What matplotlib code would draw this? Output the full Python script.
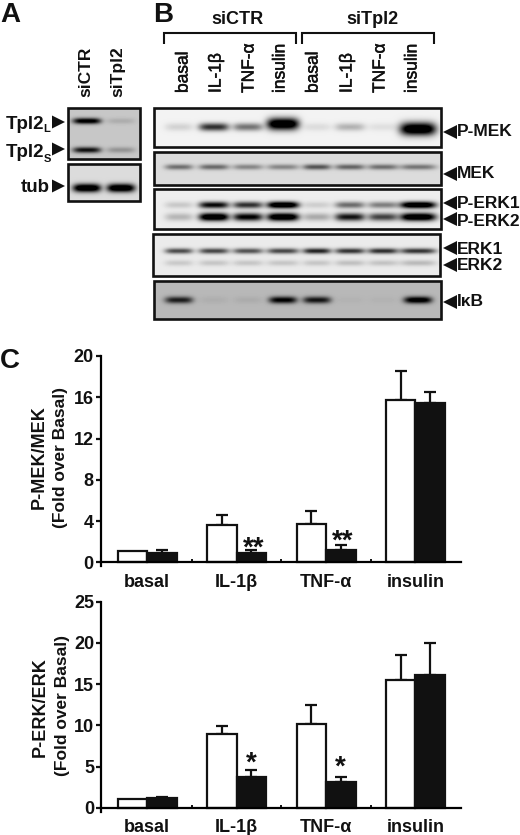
import numpy as np
import matplotlib
matplotlib.use("Agg")
import matplotlib.pyplot as plt
import matplotlib.patheffects as pe
from matplotlib.patches import Polygon, Rectangle

plt.rcParams['font.family'] = ['Liberation Sans', 'DejaVu Sans']

# ---------- data ----------
groups = ['basal', 'IL-1β', 'TNF-α', 'insulin']
mek_ctr = [1.1, 3.6, 3.7, 15.7]
mek_tpl = [0.9, 0.9, 1.2, 15.4]
mek_ctr_err = [0.0, 1.0, 1.3, 2.8]
mek_tpl_err = [0.3, 0.3, 0.5, 1.1]
erk_ctr = [1.1, 9.0, 10.2, 15.5]
erk_tpl = [1.2, 3.8, 3.1, 16.1]
erk_ctr_err = [0.0, 0.9, 2.3, 3.1]
erk_tpl_err = [0.1, 0.8, 0.6, 3.9]
mek_ticks = [0, 4, 8, 12, 16, 20]
erk_ticks = [0, 5, 10, 15, 20, 25]

lanes_b = ['basal', 'IL-1β', 'TNF-α', 'insulin', 'basal', 'IL-1β', 'TNF-α', 'insulin']
lanes_a = ['siCTR', 'siTpl2']

# band darkness per lane, 0 = nothing, 1 = black
tpl2l_band = [0.85, 0.10]
tpl2s_band = [0.72, 0.20]
tub_band = [1.0, 1.0]
pmek_band = [0.10, 0.62, 0.40, 1.0, 0.07, 0.20, 0.06, 1.0]
mek_band = [0.38, 0.40, 0.30, 0.30, 0.48, 0.42, 0.38, 0.36]
perk1_band = [0.12, 0.76, 0.62, 1.0, 0.10, 0.42, 0.36, 1.0]
perk2_band = [0.18, 1.0, 0.80, 1.0, 0.22, 0.72, 0.56, 1.0]
erk1_band = [0.52, 0.54, 0.50, 0.54, 0.66, 0.60, 0.62, 0.60]
erk2_band = [0.11, 0.12, 0.12, 0.12, 0.12, 0.14, 0.13, 0.16]
ikb_band = [0.66, 0.04, 0.05, 0.80, 0.70, 0.02, 0.02, 0.88]

W, H = 520, 835
INK = '#111111'
fig = plt.figure(figsize=(W / 100, H / 100), dpi=100)
ov = fig.add_axes([0, 0, 1, 1], zorder=0)
ov.set_xlim(0, W)
ov.set_ylim(H, 0)
ov.axis('off')


# ---------- blots ----------
def blot(x0, x1, y0, y1, bg, bands, lane_x, lane_w):
    xs = np.arange(x0, x1, 1.0) + 0.5
    ys = np.arange(y0, y1, 1.0) + 0.5
    X, Y = np.meshgrid(xs, ys)
    light = np.ones_like(X)
    for yc, h, amps in bands:
        for xc, w, a in zip(lane_x, lane_w, amps):
            d = a * 1.3 * np.exp(-((Y - yc) / h) ** 2) * np.exp(-(np.abs(X - xc) / w) ** 4)
            light *= 1 - np.clip(d, 0, 1)
    ov.imshow(bg * light, extent=(x0, x1, y1, y0), cmap='gray', vmin=0, vmax=1,
              aspect='auto', interpolation='bilinear', zorder=1)
    ov.add_patch(Rectangle((x0, y0), x1 - x0, y1 - y0, fill=False, ec=INK, lw=1.9, zorder=2))


lx_a = [87, 121]
la_w = [14, 14]
blot(68, 140, 108, 159, 0.78, [(121, 3.0, tpl2l_band), (150, 3.0, tpl2s_band)], lx_a, la_w)
blot(68, 140, 164, 201, 0.86, [(188, 4.2, tub_band)], lx_a, la_w)

lx = [179, 214, 248, 283, 317, 350, 383, 418]
lw = [14, 15, 15, 16, 14, 15, 15, 18]
blot(154, 441, 108, 147, 0.95, [(127, 4.0, pmek_band[:3] + [0, 0, 0, 0, 0]),
                                (124, 6.0, [0, 0, 0, 1.0, 0, 0, 0, 0]),
                                (127, 4.0, [0, 0, 0, 0] + pmek_band[4:7] + [0]),
                                (129, 6.5, [0, 0, 0, 0, 0, 0, 0, 1.0])], lx, lw)
blot(154, 441, 152, 185, 0.86, [(167, 2.8, mek_band)], lx, lw)
blot(154, 441, 189, 229, 0.93, [(205, 3.4, perk1_band), (217, 4.0, perk2_band)], lx, lw)
blot(153, 440, 234, 276, 0.92, [(251, 2.8, erk1_band), (263, 3.0, erk2_band)], lx, lw)
blot(154, 441, 281, 319, 0.72, [(300, 3.5, ikb_band)], lx, [14, 14, 14, 14, 14, 14, 14, 14])


# ---------- annotation text ----------
def txt(x, y, s, size=12, weight='bold', ha='left', va='center', rot=0, heavy=False):
    t = ov.text(x, y, s, fontsize=size, fontweight=weight, ha=ha, va=va, rotation=rot,
                rotation_mode='anchor', color=INK, zorder=5)
    if heavy:
        t.set_path_effects([pe.withStroke(linewidth=0.35, foreground=INK)])
    return t


txt(0, 22, 'A', size=20, va='baseline')
txt(153, 22, 'B', size=20, va='baseline')
txt(0, 368, 'C', size=20, va='baseline')

for name, x in zip(lanes_a, [86, 118]):
    txt(x, 97, name, size=12.5, rot=90)
for name, x in zip(lanes_b, [183, 216, 249, 280, 313, 347, 380, 412]):
    txt(x, 93, name, size=12.5, weight='normal', rot=90, heavy=True)

txt(237, 20, 'siCTR', size=13, ha='center')
txt(372, 20, 'siTpl2', size=13, ha='center')
for xa, xb in [(164, 296), (302, 434)]:
    ov.plot([xa, xa, xb, xb], [44, 33, 33, 44], color=INK, lw=1.5,
            solid_joinstyle='miter', solid_capstyle='butt', zorder=3)


def left_arrow(x, y):
    ov.add_patch(Polygon([(x, y - 6.5), (x, y + 6.5), (x + 13, y)], fc=INK, ec='none', zorder=4))


def right_arrow(x, y):
    ov.add_patch(Polygon([(x, y), (x + 14, y - 7), (x + 14, y + 7)], fc=INK, ec='none', zorder=4))


for y in [122, 149, 186]:
    left_arrow(52, y)
txt(6, 129, 'Tpl2', size=13.5, va='baseline')
txt(43.5, 132, 'L', size=8, va='baseline')
txt(6, 157, 'Tpl2', size=13.5, va='baseline')
txt(43.5, 162, 'S', size=8, va='baseline')
txt(21, 192, 'tub', size=13.5, va='baseline')

for name, ya, yt in [('P-MEK', 132, 132), ('MEK', 174, 174), ('P-ERK1', 203, 204),
                     ('P-ERK2', 219, 221), ('ERK1', 248, 250), ('ERK2', 265, 266), ('IκB', 302, 302)]:
    right_arrow(443, ya)
    txt(457, yt, name, size=12.5)

txt(39, 457, 'P-MEK/MEK', size=13, ha='center', rot=90)
txt(60, 457, '(Fold over Basal)', size=12.5, ha='center', rot=90)
txt(40, 707, 'P-ERK/ERK', size=13, ha='center', rot=90)
txt(62, 706, '(Fold over Basal)', size=12.5, ha='center', rot=90)


# ---------- bar panels ----------
def panel(y_top, y_zero, ymax, ticks, ctr, tpl, ctr_err, tpl_err, x_left):
    pad_px = 4
    scale = (y_zero - y_top) / ymax
    bottom = y_zero + pad_px
    ax = fig.add_axes([x_left / W, 1 - bottom / H, (461 - x_left) / W, (bottom - y_top) / H],
                      zorder=3)
    ax.patch.set_alpha(0)
    ax.set_ylim(-pad_px / scale, ymax)
    ax.set_xlim((x_left - 147) / 89.5, (461 - 147) / 89.5)
    x = np.arange(len(groups))
    bw = 29.5 / 89.5
    ax.bar(x - bw / 2, ctr, bw, fc='white', ec=INK, lw=1.6, zorder=3)
    ax.bar(x + bw / 2, tpl, bw, fc=INK, ec=INK, lw=1.6, zorder=3)
    for xs, v, e in [(x - bw / 2, ctr, ctr_err), (x + bw / 2, tpl, tpl_err)]:
        ve = np.array(e)
        keep = ve > 0
        ax.errorbar(xs[keep], np.array(v)[keep], yerr=[np.zeros(keep.sum()), ve[keep]], fmt='none',
                    ecolor=INK, elinewidth=1.6, capsize=4.2, capthick=1.6, zorder=2)
    for s in ['top', 'right']:
        ax.spines[s].set_visible(False)
    ax.spines['bottom'].set_position(('data', 0))
    ax.spines['bottom'].set_linewidth(1.6)
    ax.spines['left'].set_linewidth(1.6)
    ax.spines['bottom'].set_zorder(5)
    ax.set_yticks(ticks)
    ax.tick_params(axis='y', length=3.5, width=1.6, labelsize=13, pad=1.5, colors=INK)
    for t in ax.get_yticklabels():
        t.set_fontweight('bold')
    ax.set_xticks(x)
    ax.set_xticklabels([])
    ax.tick_params(axis='x', which='major', length=0)
    ax.set_xticks(x[:-1] + 0.5, minor=True)
    ax.tick_params(axis='x', which='minor', length=2.5, width=1.4, direction='in', colors=INK)
    for g, xv in zip(groups, x):
        ax.annotate(g, (xv, 0), xytext=(0, -20 / 1.389), textcoords='offset points',
                    ha='center', va='center', fontsize=13, fontweight='bold', color=INK)
    return ax


ax1 = panel(356, 562.3, 20, mek_ticks, mek_ctr, mek_tpl, mek_ctr_err, mek_tpl_err, 100.5)
ax2 = panel(601.7, 808, 25, erk_ticks, erk_ctr, erk_tpl, erk_ctr_err, erk_tpl_err, 101)

star_size = 20
for ax, xv, yv, s in [(ax1, 1.19, 2.2, '**'), (ax1, 2.19, 2.85, '**'), (ax2, 1.17, 6.5, '*'), (ax2, 2.16, 6.0, '*')]:
    ax.annotate(s, (xv, yv), xytext=(0, -0.58 * star_size), textcoords='offset points',
                ha='center', va='baseline', fontsize=star_size, fontweight='bold', color=INK, zorder=6)

fig.savefig('out.png', dpi=100)
